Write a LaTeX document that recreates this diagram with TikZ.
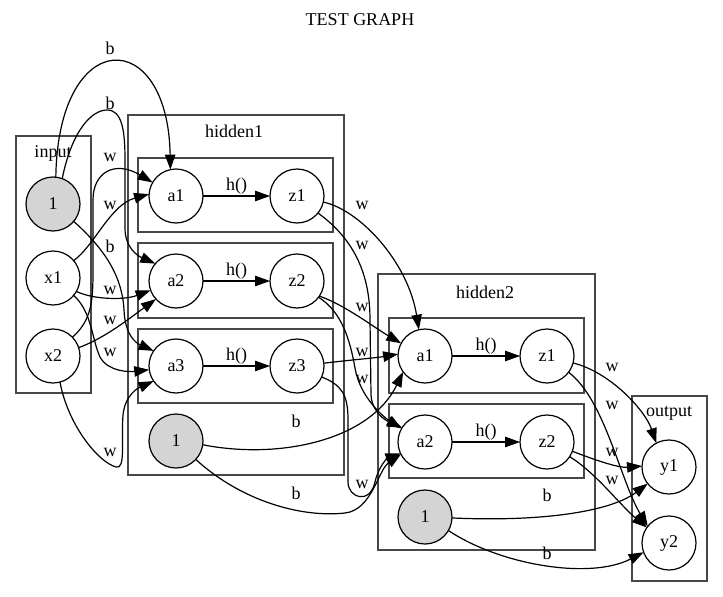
\documentclass[tikz,border=0pt]{standalone}
\usepackage{fontspec}
\setmainfont{Liberation Serif}
\usetikzlibrary{arrows.meta}
\begin{document}
\begin{tikzpicture}[x=1pt,y=-1pt,
  every node/.style={font=\fontsize{18}{20}\selectfont},
  nd/.style={circle,draw,line width=1.2pt,minimum size=54pt,inner sep=0pt,outer sep=0pt},
  bias/.style={nd,fill=black!17},
  clus/.style={draw=black!72,line width=1.6pt},
  e/.style={line width=1.2pt,-{Triangle[length=15pt,width=10.5pt]}},
  lbl/.style={inner sep=0pt}]
\useasboundingbox (0,0) rectangle (723,597);
\node[lbl] (title) at (360,20) {TEST GRAPH};
% clusters
\draw[clus] (16,136) rectangle (91,393);
\node[lbl] (Linput) at (53,153) {input};
\draw[clus] (128,115) rectangle (344,475);
\node[lbl] (Lh1) at (234,131) {hidden1};
\draw[clus] (138,158) rectangle (333,232);
\draw[clus] (138,243) rectangle (333,318);
\draw[clus] (138,329) rectangle (333,403);
\draw[clus] (378,274) rectangle (595,550);
\node[lbl] (Lh2) at (485,292) {hidden2};
\draw[clus] (389,318) rectangle (584,393);
\draw[clus] (389,404) rectangle (584,478);
\draw[clus] (632,396) rectangle (707,581);
\node[lbl] (Lout) at (669,413) {output};
% nodes
\node[bias] (in1) at (53,204) {1};
\node[nd] (x1) at (53,278) {x1};
\node[nd] (x2) at (53,356) {x2};
\node[nd] (h1a1) at (176,196) {a1};
\node[nd] (h1z1) at (297,196) {z1};
\node[nd] (h1a2) at (176,281) {a2};
\node[nd] (h1z2) at (297,281) {z2};
\node[nd] (h1a3) at (176,366) {a3};
\node[nd] (h1z3) at (297,366) {z3};
\node[bias] (b1) at (176,441) {1};
\node[nd] (h2a1) at (425,356) {a1};
\node[nd] (h2z1) at (547,356) {z1};
\node[nd] (h2a2) at (425,442) {a2};
\node[nd] (h2z2) at (547,442) {z2};
\node[bias] (b2) at (425,517) {1};
\node[nd] (y1) at (669,467) {y1};
\node[nd] (y2) at (669,543) {y2};
% input -> hidden1
\draw[e] (in1.84) .. controls (58,25) and (168,25) .. (h1a1.102);
\draw[e] (in1.70) .. controls (72,130) and (92,110) .. (107,110) .. controls (122,110) and (125,130) .. (125,160) -- (125,228) .. controls (125,248) and (138,256) .. (h1a2.140);
\draw[e] (in1.-40) .. controls (100,245) and (122,272) .. (124,310) .. controls (125,335) and (136,343) .. (h1a3.146);
\draw[e] (x2.44) .. controls (92,320) and (93,300) .. (93,270) -- (93,200) .. controls (93,172) and (115,160) .. (h1a1.150);
\draw[e] (x1.40) .. controls (95,245) and (110,205) .. (h1a1.176);
\draw[e] (x1.-30) .. controls (95,300) and (125,300) .. (h1a2.200);
\draw[e] (x2.18) .. controls (105,338) and (130,318) .. (h1a2.222);
\draw[e] (x1.-40) .. controls (92,312) and (92,340) .. (100,357) .. controls (108,372) and (130,372) .. (h1a3.188);
\draw[e] (x2.-75) .. controls (68,425) and (98,462) .. (116,467) .. controls (126,470) and (121,440) .. (123,415) .. controls (125,395) and (138,388) .. (h1a3.214);
\node[lbl] at (110,48) {b};
\node[lbl] at (110,103) {b};
\node[lbl] at (110,157) {w};
\node[lbl] at (110,205) {w};
\node[lbl] at (110,246) {b};
\node[lbl] at (110,290) {w};
\node[lbl] at (110,320) {w};
\node[lbl] at (110,352) {w};
\node[lbl] at (110,452) {w};
% hidden1 internal
\draw[e] (h1a1) -- node[lbl,yshift=10pt] {h()} (h1z1);
\draw[e] (h1a2) -- node[lbl,yshift=10pt] {h()} (h1z2);
\draw[e] (h1a3) -- node[lbl,yshift=10pt] {h()} (h1z3);
% hidden1 -> hidden2
\draw[e] (h1z1.-13) .. controls (360,210) and (408,262) .. (h2a1.103);
\draw[e] (h1z1.-39) .. controls (355,240) and (370,275) .. (370,320) -- (371,395) .. controls (372,412) and (385,420) .. (h2a2.148);
\draw[e] (h1z2.-34) .. controls (345,305) and (375,328) .. (h2a1.152);
\draw[e] (h1z3.6) .. controls (350,360) and (375,358) .. (h2a1.176);
\draw[e] (h1z2.-37) .. controls (342,312) and (350,340) .. (355,368) .. controls (360,398) and (385,418) .. (h2a2.150);
\draw[e] (h1z3.-24) .. controls (342,385) and (348,395) .. (348,420) -- (348,482) .. controls (348,498) and (370,505) .. (375,482) .. controls (379,465) and (388,458) .. (h2a2.205);
\draw[e] (b1.-8) .. controls (280,460) and (370,440) .. (h2a1.216);
\draw[e] (b1.-43) .. controls (240,500) and (300,518) .. (345,513) .. controls (372,510) and (378,470) .. (h2a2.207);
\node[lbl] at (362,205) {w};
\node[lbl] at (362,245) {w};
\node[lbl] at (362,307) {w};
\node[lbl] at (362,352) {w};
\node[lbl] at (362,379) {w};
\node[lbl] at (362,484) {w};
\node[lbl] at (296,421) {b};
\node[lbl] at (296,493) {b};
% hidden2 internal
\draw[e] (h2a1) -- node[lbl,yshift=10pt] {h()} (h2z1);
\draw[e] (h2a2) -- node[lbl,yshift=10pt] {h()} (h2z2);
% hidden2 -> output
\draw[e] (h2z1.-15) .. controls (610,372) and (645,410) .. (y1.118);
\draw[e] (h2z1.-37) .. controls (605,400) and (620,480) .. (y2.142);
\draw[e] (h2z2.-20) .. controls (600,462) and (620,468) .. (y1.178);
\draw[e] (h2z2.-33) .. controls (595,472) and (620,505) .. (y2.145);
\draw[e] (b2.-2) .. controls (540,522) and (610,512) .. (y1.218);
\draw[e] (b2.-30) .. controls (500,565) and (590,580) .. (y2.200);
\node[lbl] at (612,367) {w};
\node[lbl] at (612,405) {w};
\node[lbl] at (612,452) {w};
\node[lbl] at (612,480) {w};
\node[lbl] at (547,495) {b};
\node[lbl] at (547,553) {b};
\end{tikzpicture}
\end{document}
